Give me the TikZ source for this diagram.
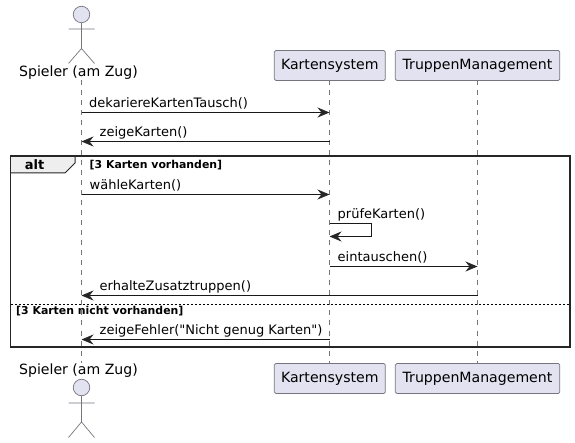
\documentclass[tikz,border=0pt]{standalone}
\usepackage{fontspec}
\setmainfont{DejaVu Sans}
\newfontfamily\plainfont{DejaVu Sans}
\usetikzlibrary{arrows.meta}
\definecolor{pfill}{HTML}{E2E2F0}
\definecolor{pline}{HTML}{75757F}
\definecolor{tabfill}{HTML}{EEEEEE}
\tikzset{
  part/.style={draw=pline,fill=pfill,rounded corners=1.5pt,line width=.7pt,minimum height=30pt,inner sep=0pt,font=\fontsize{14.1}{14.1}\selectfont},
  actlabel/.style={inner sep=0pt,font=\fontsize{14.1}{14.1}\selectfont},
  head/.style={circle,draw=pline,fill=pfill,line width=.7pt,minimum size=16.5pt,inner sep=0pt},
  limb/.style={draw=pline,line width=.7pt},
  life/.style={draw=pline,line width=.7pt,dash pattern=on 5pt off 5pt},
  msg/.style={draw=black!90,line width=.75pt,-{Stealth[length=12pt,width=10pt,inset=4pt,color=black!85]}},
  msgtext/.style={inner sep=0pt,anchor=base west,font=\plainfont\fontsize{13}{13}\selectfont},
  guard/.style={inner sep=0pt,anchor=base west,font=\fontsize{10.9}{10.9}\selectfont\bfseries},
  frameline/.style={draw=black!85,line width=1.5pt},
}
\begin{document}
\begin{tikzpicture}[x=1pt,y=-1pt]
\useasboundingbox (0,0) rectangle (575,443);
% lifeline ends
\coordinate (ta) at (81.5,80.5); \coordinate (ba) at (81.5,363);
\coordinate (tk) at (329.5,80.5); \coordinate (bk) at (329.5,363.5);
\coordinate (tt) at (477.5,80.5); \coordinate (bt) at (477.5,363.5);
\draw[life] (ta) -- (ba);
\draw[life] (tk) -- (bk);
\draw[life] (tt) -- (bt);
% participants
\node[part,minimum width=111pt] (kbox1) at (329.8,65.5) {Kartensystem};
\node[part,minimum width=164.5pt] (tbox1) at (477.5,65.5) {TruppenManagement};
\node[part,minimum width=111pt] (kbox2) at (329.8,378.5) {Kartensystem};
\node[part,minimum width=164.5pt] (tbox2) at (477.5,378.5) {TruppenManagement};
% top actor
\node[head] (h1) at (81.5,14.5) {};
\coordinate (b1) at (81.5,48.5);
\coordinate (al1) at (68.5,29); \coordinate (ar1) at (94.5,29);
\coordinate (ll1) at (68.5,63.5); \coordinate (lr1) at (94.5,63.5);
\draw[limb] (h1) -- (b1) (al1) -- (ar1) (ll1) -- (b1) -- (lr1);
\node[actlabel] (l1) at (78.5,73) {Spieler (am Zug)};
% bottom actor
\node[actlabel] (l2) at (78.5,371) {Spieler (am Zug)};
\node[head] (h2) at (81.5,387.5) {};
\coordinate (b2) at (81.5,422);
\coordinate (al2) at (68.5,403); \coordinate (ar2) at (94.5,403);
\coordinate (ll2) at (68.5,437.5); \coordinate (lr2) at (94.5,437.5);
\draw[limb] (h2) -- (b2) (al2) -- (ar2) (ll2) -- (b2) -- (lr2);
% frame
\coordinate (f1) at (10.5,156); \coordinate (f2) at (570,156);
\coordinate (f3) at (570,347); \coordinate (f4) at (10.5,347);
\coordinate (tb1) at (75,156); \coordinate (tb2) at (75,163);
\coordinate (tb3) at (65,173); \coordinate (tb4) at (10.5,173);
\fill[tabfill] (f1) -- (tb1) -- (tb2) -- (tb3) -- (tb4) -- cycle;
\draw[draw=black!85,line width=1pt] (tb1) -- (tb2) -- (tb3) -- (tb4);
\draw[frameline] (f1) -- (f2) -- (f3) -- (f4) -- cycle;
\node[inner sep=0pt,font=\fontsize{13}{13}\selectfont\bfseries] (alt) at (34.5,165) {alt};
\node[guard] (g1) at (89.5,169) {[3 Karten vorhanden]};
\coordinate (d1) at (10.5,304.5); \coordinate (d2) at (570,304.5);
\draw[black,line width=.7pt,dash pattern=on 2pt off 2pt] (d1) -- (d2);
\node[guard] (g2) at (16,314) {[3 Karten nicht vorhanden]};
% messages
\foreach \n/\y in {1/112.5,2/141.5,3/194.5,5/266.5,6/295.5,7/339.5}{
  \coordinate (a\n) at (81.5,\y);
  \coordinate (k\n) at (329.5,\y);
  \coordinate (t\n) at (477.5,\y);
}
\draw[msg] (a1) -- (k1);
\draw[msg] (k2) -- (a2);
\draw[msg] (a3) -- (k3);
\coordinate (s1) at (329.5,223.5); \coordinate (s2) at (371.7,223.5);
\coordinate (s3) at (371.7,236.5); \coordinate (s4) at (329.5,236.5);
\draw[msg] (s1) -- (s2) -- (s3) -- (s4);
\draw[msg] (k5) -- (t5);
\draw[msg] (t6) -- (a6);
\draw[msg] (k7) -- (a7);
\node[msgtext] (m1) at (89,107.5) {dekariereKartenTausch()};
\node[msgtext] (m2) at (99.5,136.5) {zeigeKarten()};
\node[msgtext] (m3) at (89.5,189.5) {wähleKarten()};
\node[msgtext] (m4) at (337.5,218.5) {prüfeKarten()};
\node[msgtext] (m5) at (337.5,261.5) {eintauschen()};
\node[msgtext] (m6) at (99.5,290.5) {erhalteZusatztruppen()};
\node[msgtext] (m7) at (99.5,334.5) {zeigeFehler("Nicht genug Karten")};
\end{tikzpicture}
\end{document}
